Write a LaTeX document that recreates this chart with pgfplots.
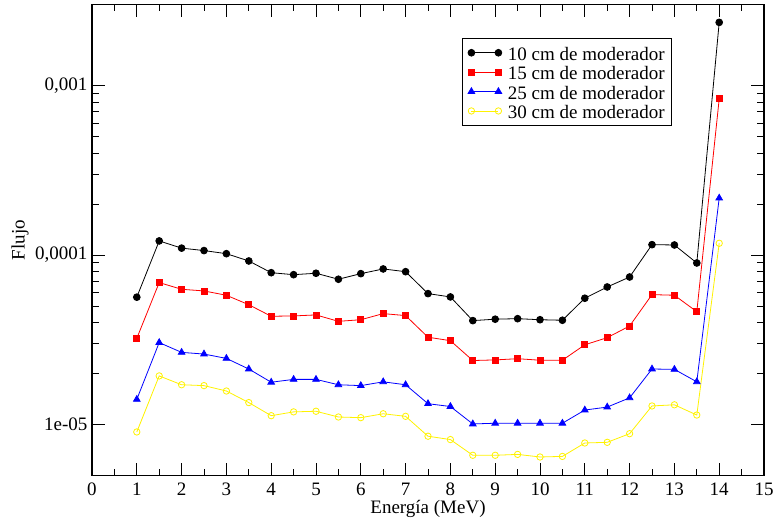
\documentclass[border=0pt]{standalone}
\usepackage{fontspec}
\setmainfont{Liberation Serif}
\usepackage{pgfplots}
\pgfplotsset{compat=1.18}
\newcommand{\gfont}{\fontsize{19}{22}\selectfont}

\begin{document}
\begin{tikzpicture}
\begin{axis}[
    scale only axis,
    width=672pt, height=471pt,
    xmin=0, xmax=15,
    ymin=5e-6, ymax=3e-3,
    ymode=log,
    axis line style={line width=1.2pt},
    every tick/.style={line width=1pt, black},
    tick align=inside,
    major tick length=12.7pt,
    minor tick length=6.7pt,
    xtick={0,1,...,15},
    minor x tick num=1,
    ytick={1e-5,1e-4,1e-3},
    yticklabels={1e-05,{0,0001},{0,001}},
    /pgf/number format/assume math mode=true,
    tick label style={font=\gfont},
    xticklabel style={anchor=base, yshift=-20pt, inner sep=0pt},
    yticklabel style={xshift=-1pt},
    label style={font=\gfont},
    xlabel={Energía (MeV)},
    ylabel={Flujo},
    xlabel style={at={(axis description cs:0.5,0)}, anchor=base, yshift=-38pt, inner sep=0pt},
    ylabel style={at={(axis description cs:-0.107,0.5)}, anchor=center, rotate=0},
    legend cell align=left,
    legend style={
        at={(axis description cs:0.550,0.929)}, anchor=north west,
        font=\gfont, draw=black, line width=0.8pt,
        inner xsep=6pt, inner ysep=4.5pt, row sep=0pt,
        nodes={inner sep=1.2pt, text height=16pt, text depth=1pt},
        /tikz/every odd column/.append style={column sep=4.9pt},
    },
    legend image code/.code={
        \draw[#1, line width=0.8pt] plot coordinates {(0pt,0pt) (27pt,0pt)};
    },
    every axis plot/.append style={line width=0.8pt},
]
\addplot[black, mark=*, mark size=3.4pt] coordinates {
    (1,5.65e-5) (1.5,1.213e-4) (2,1.10e-4) (2.5,1.064e-4) (3,1.02e-4)
    (3.5,9.24e-5) (4,7.88e-5) (4.5,7.67e-5) (5,7.82e-5) (5.5,7.21e-5)
    (6,7.78e-5) (6.5,8.29e-5) (7,7.99e-5) (7.5,5.93e-5) (8,5.67e-5)
    (8.5,4.11e-5) (9,4.19e-5) (9.5,4.22e-5) (10,4.16e-5) (10.5,4.13e-5)
    (11,5.57e-5) (11.5,6.49e-5) (12,7.43e-5) (12.5,1.153e-4) (13,1.148e-4)
    (13.5,8.99e-5) (14,2.36e-3)
};
\addlegendentry{10 cm de moderador}
\addplot[red, mark=square*, mark size=3pt] coordinates {
    (1,3.23e-5) (1.5,6.89e-5) (2,6.29e-5) (2.5,6.15e-5) (3,5.80e-5)
    (3.5,5.10e-5) (4,4.36e-5) (4.5,4.38e-5) (5,4.44e-5) (5.5,4.07e-5)
    (6,4.16e-5) (6.5,4.52e-5) (7,4.40e-5) (7.5,3.28e-5) (8,3.13e-5)
    (8.5,2.39e-5) (9,2.41e-5) (9.5,2.45e-5) (10,2.40e-5) (10.5,2.40e-5)
    (11,2.96e-5) (11.5,3.26e-5) (12,3.82e-5) (12.5,5.85e-5) (13,5.80e-5)
    (13.5,4.64e-5) (14,8.35e-4)
};
\addlegendentry{15 cm de moderador}
\addplot[blue, mark=triangle*, mark size=3.8pt] coordinates {
    (1,1.41e-5) (1.5,3.05e-5) (2,2.67e-5) (2.5,2.61e-5) (3,2.46e-5)
    (3.5,2.13e-5) (4,1.78e-5) (4.5,1.85e-5) (5,1.85e-5) (5.5,1.72e-5)
    (6,1.70e-5) (6.5,1.79e-5) (7,1.72e-5) (7.5,1.33e-5) (8,1.28e-5)
    (8.5,1.01e-5) (9,1.02e-5) (9.5,1.02e-5) (10,1.02e-5) (10.5,1.02e-5)
    (11,1.22e-5) (11.5,1.27e-5) (12,1.44e-5) (12.5,2.13e-5) (13,2.12e-5)
    (13.5,1.79e-5) (14,2.17e-4)
};
\addlegendentry{25 cm de moderador}
\addplot[yellow, mark=o, mark size=3.2pt] coordinates {
    (1,9.06e-6) (1.5,1.94e-5) (2,1.72e-5) (2.5,1.70e-5) (3,1.58e-5)
    (3.5,1.35e-5) (4,1.13e-5) (4.5,1.19e-5) (5,1.20e-5) (5.5,1.11e-5)
    (6,1.10e-5) (6.5,1.16e-5) (7,1.12e-5) (7.5,8.55e-6) (8,8.17e-6)
    (8.5,6.60e-6) (9,6.60e-6) (9.5,6.68e-6) (10,6.45e-6) (10.5,6.50e-6)
    (11,7.80e-6) (11.5,7.87e-6) (12,8.85e-6) (12.5,1.29e-5) (13,1.31e-5)
    (13.5,1.14e-5) (14,1.175e-4)
};
\addlegendentry{30 cm de moderador}
\end{axis}
\pgfresetboundingbox
\path ([shift={(-92pt,-48.3pt)}]current axis.south west) rectangle ([shift={(12pt,4.7pt)}]current axis.north east);
\end{tikzpicture}
\end{document}
